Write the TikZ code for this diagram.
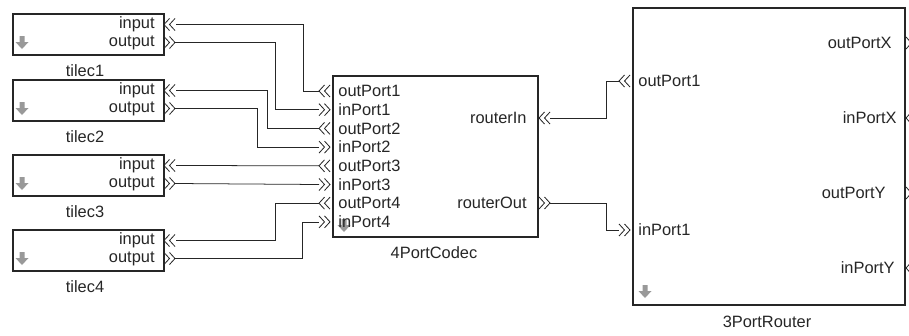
\documentclass[tikz,border=0pt]{standalone}
\usepackage{fontspec}
\setmainfont{Liberation Sans}
\usetikzlibrary{shadows}

\tikzset{
  block/.style={draw=black!85, line width=1.8pt, fill=white, anchor=north west,
    drop shadow={shadow xshift=1.2pt, shadow yshift=-1.2pt, fill=black!40}},
  port/.style={font=\fontsize{14}{15}\selectfont, text=black!85, inner sep=1pt},
  caption/.style={font=\fontsize{14}{15}\selectfont, text=black!85},
  wire/.style={draw=black!85, line width=0.65pt},
  marker/.style={draw=black!85, line width=0.7pt},
  rmark/.pic={\draw[marker] (0,-6) -- (5.5,0) -- (0,6) (5.5,-6) -- (11,0) -- (5.5,6);},
  lmark/.pic={\draw[marker] (11,-6) -- (5.5,0) -- (11,6) (5.5,-6) -- (0,0) -- (5.5,6);},
  dnarrow/.pic={\fill[black!40] (-2.5,-6) rectangle (2.5,0) (-6.5,0) -- (6.5,0) -- (0,7) -- cycle;}
}

\begin{document}
\begin{tikzpicture}[x=0.3mm, y=-0.3mm]
      \useasboundingbox (0,0) rectangle (909,335);

      \foreach \i/\y in {1/13, 2/79, 3/154, 4/229} {
        \node[block, minimum width=45.3mm, minimum height=12.3mm] (tile\i) at (12,\y) {};
        \node[port, anchor=east] at (156,\y+11.5) {input};
        \node[port, anchor=east] at (156,\y+29.5) {output};
        \node[caption] (tlbl\i) at (85,\y+58) {tilec\i};
        \pic at (22,\y+29) {dnarrow};
        \pic at (164,\y+11.5) {lmark};
        \pic at (164,\y+29.5) {rmark};
        \coordinate (ti\i) at (176,\y+11.5);
        \coordinate (to\i) at (175,\y+29.5);
      }

      \node[block, minimum width=61.5mm, minimum height=48.3mm] (codec) at (332,75) {};
      \node[caption] (clbl) at (434,253) {4PortCodec};
      \pic at (344,225) {dnarrow};
      \foreach \k in {1,...,4} {
        \pgfmathsetmacro\yo{91+37.4*(\k-1)}
        \pgfmathsetmacro\yi{\yo+18.7}
        \node[port, anchor=west] at (337,\yo) {outPort\k};
        \node[port, anchor=west] at (337,\yi) {inPort\k};
        \pic at (319,\yo) {lmark};
        \pic at (319,\yi) {rmark};
        \coordinate (co\k) at (319,\yo);
        \coordinate (ci\k) at (319,\yi);
      }
      \node[port, anchor=east] at (528,118) {routerIn};
      \node[port, anchor=east] at (528,203) {routerOut};
      \pic at (539,118) {lmark};
      \pic at (539,203) {rmark};
      \coordinate (cri) at (550,118);
      \coordinate (cro) at (550,203);

      \node[block, minimum width=81.6mm, minimum height=89.1mm] (router) at (632,7) {};
      \node[caption] (rlbl) at (767,322) {3PortRouter};
      \pic at (645,291) {dnarrow};
      \node[port, anchor=west] at (637,81) {outPort1};
      \node[port, anchor=west] at (637,230) {inPort1};
      \pic at (619,81) {lmark};
      \pic at (619,230) {rmark};
      \coordinate (ro1) at (619,81);
      \coordinate (ri1) at (619,230);
      \node[port, anchor=east] at (893,43) {outPortX};
      \node[port, anchor=east] at (898,118) {inPortX};
      \node[port, anchor=east] at (887,193) {outPortY};
      \node[port, anchor=east] at (896,268) {inPortY};
      \pic at (906,43) {rmark};
      \pic at (906,118) {lmark};
      \pic at (906,193) {rmark};
      \pic at (906,268) {lmark};

      \draw[wire] (co1) -- ++(-16,0) |- (ti1);
      \draw[wire] (to1) -- ++(100,0) |- (ci1);
      \draw[wire] (co2) -- ++(-52,0) |- (ti2);
      \draw[wire] (to2) -- ++(82,0) |- (ci2);
      \draw[wire] (co3) -- (ti3);
      \draw[wire] (to3) -- (ci3);
      \draw[wire] (co4) -- ++(-44,0) |- (ti4);
      \draw[wire] (to4) -- ++(127,0) |- (ci4);
      \draw[wire] (ro1) -- ++(-13,0) |- (cri);
      \draw[wire] (cro) -- ++(56,0) |- (ri1);
    \end{tikzpicture}
\end{document}
